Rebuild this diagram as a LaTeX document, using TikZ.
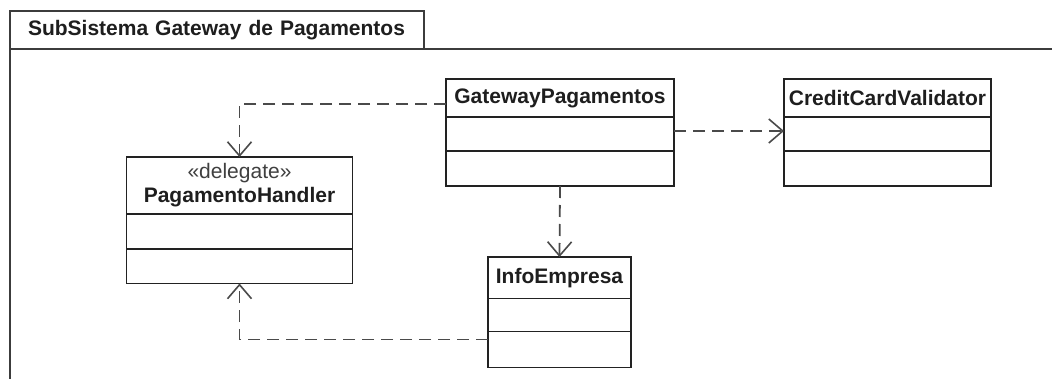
\documentclass[tikz,border=0pt]{standalone}
\usepackage{fontspec}
\setmainfont{Liberation Sans}
\usetikzlibrary{arrows.meta}
\definecolor{boxline}{HTML}{222222}
\definecolor{depline}{HTML}{4A4A4A}
\definecolor{framecol}{HTML}{3C3C3C}
\definecolor{txt}{HTML}{1E1E1E}
\begin{document}
\begin{tikzpicture}[x=1pt,y=-1pt,
  every node/.style={font=\fontsize{21}{24}\selectfont, text=txt},
  comp/.style={draw=boxline, line width=1.8pt, fill=white, inner sep=0pt, outer sep=0pt,
    anchor=north west, align=center},
  classname/.style={font=\fontsize{21}{24}\selectfont\bfseries},
  stereo/.style={text=black!75},
  dep/.style={draw=depline, line width=1.8pt, dash pattern=on 12pt off 7pt,
    -{Straight Barb[length=14pt,width=24pt,line width=1.6pt]}},
  frameline/.style={draw=framecol, line width=2.4pt}]
\useasboundingbox (0,0) rectangle (1052,379);
\fill[white] (0,0) rectangle (1052,379);

% package frame with its name tab
\node (tab) [comp, draw=framecol, line width=2.4pt, minimum height=38pt, text width=378pt,
  inner xsep=18pt, align=left, classname] at (10,11) {SubSistema Gateway de Pagamentos};
\coordinate (frameright) at (1056,49);
\coordinate (framebottom) at (10,383);
\draw[frameline] (framebottom) -- (tab.south west) -- (frameright);

% GatewayPagamentos
\node (gwh) [comp, minimum width=228pt, minimum height=38pt, classname] at (446,79) {GatewayPagamentos};
\node (gwa) [comp, minimum width=228pt, minimum height=34pt] at (gwh.south west) {};
\node (gwo) [comp, minimum width=228pt, minimum height=35pt] at (gwa.south west) {};

% CreditCardValidator
\node (cch) [comp, minimum width=207pt, minimum height=38pt, classname] at (784,79) {CreditCardValidator};
\node (cca) [comp, minimum width=207pt, minimum height=34pt] at (cch.south west) {};
\node (cco) [comp, minimum width=207pt, minimum height=35pt] at (cca.south west) {};

% PagamentoHandler
\node (phh) [comp, minimum width=226pt, minimum height=57pt] at (126.5,157)
  {{\fontsize{21}{24}\selectfont\color{black!75}«delegate»}\\{\bfseries PagamentoHandler}};
\node (pha) [comp, minimum width=226pt, minimum height=35pt] at (phh.south west) {};
\node (pho) [comp, minimum width=226pt, minimum height=34.5pt] at (pha.south west) {};

% InfoEmpresa
\node (ieh) [comp, minimum width=143pt, minimum height=41.5pt, classname] at (488,257) {InfoEmpresa};
\node (iea) [comp, minimum width=143pt, minimum height=33pt] at (ieh.south west) {};
\node (ieo) [comp, minimum width=143pt, minimum height=36pt] at (iea.south west) {};

% dependencies
\draw[dep] ([yshift=-6pt]gwh.west) -| (phh.north);
\draw[dep] ([yshift=3pt]gwa.east) -- ([yshift=3pt]cca.west);
\draw[dep] (gwo.south) -- (ieh.north);
\draw[dep] ([yshift=10pt]ieo.west) -| (pho.south);
\end{tikzpicture}
\end{document}
